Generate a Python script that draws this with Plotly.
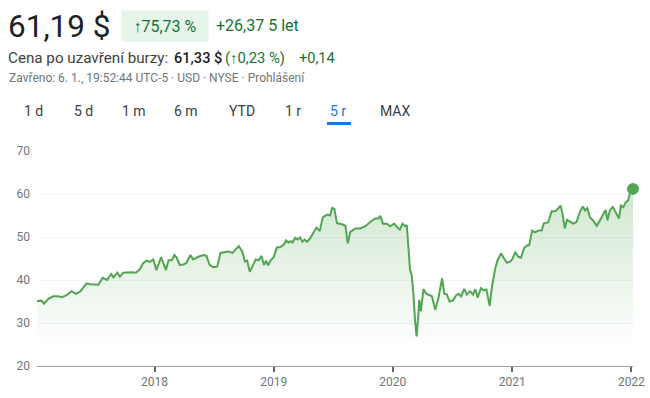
import plotly.graph_objects as go

# ---- data ----
dates = [
    "2017-01-06", "2017-01-20", "2017-01-27", "2017-02-10", "2017-02-25", "2017-03-12", "2017-03-23",
    "2017-04-07", "2017-04-22", "2017-05-05", "2017-05-18", "2017-05-28", "2017-06-07", "2017-06-17",
    "2017-07-03", "2017-07-13", "2017-07-26", "2017-08-09", "2017-08-21", "2017-08-28", "2017-09-09",
    "2017-09-17", "2017-09-27", "2017-10-08", "2017-10-23", "2017-11-05", "2017-11-17", "2017-11-27",
    "2017-12-08", "2017-12-18", "2017-12-28",
    "2018-01-07", "2018-01-21", "2018-02-05", "2018-02-13", "2018-02-23", "2018-03-03", "2018-03-10",
    "2018-03-19", "2018-03-31", "2018-04-09", "2018-04-21", "2018-04-29", "2018-05-06", "2018-05-15",
    "2018-06-01", "2018-06-09", "2018-06-19", "2018-06-30", "2018-07-12", "2018-07-22", "2018-08-06",
    "2018-08-16", "2018-08-28", "2018-09-06", "2018-09-16", "2018-09-27", "2018-10-05", "2018-10-12",
    "2018-10-20", "2018-10-27", "2018-11-07", "2018-11-16", "2018-11-25", "2018-12-02", "2018-12-09",
    "2018-12-15", "2018-12-23",
    "2019-01-01", "2019-01-11", "2019-01-21", "2019-02-02", "2019-02-08", "2019-02-15", "2019-02-23",
    "2019-02-28", "2019-03-08", "2019-03-15", "2019-03-23", "2019-03-30", "2019-04-06", "2019-04-13",
    "2019-04-23", "2019-05-03", "2019-05-12", "2019-05-22", "2019-06-01", "2019-06-14", "2019-06-23",
    "2019-06-29", "2019-07-06", "2019-07-14", "2019-07-22", "2019-08-01", "2019-08-09", "2019-08-16",
    "2019-08-24", "2019-09-08", "2019-09-24", "2019-10-09", "2019-10-24", "2019-11-08", "2019-11-18",
    "2019-11-24", "2019-12-02", "2019-12-14", "2019-12-24",
    "2020-01-05", "2020-01-14", "2020-01-23", "2020-01-31", "2020-02-08", "2020-02-13", "2020-02-18",
    "2020-02-23", "2020-02-28", "2020-03-04", "2020-03-09", "2020-03-14", "2020-03-19", "2020-03-22",
    "2020-03-27", "2020-04-04", "2020-04-12", "2020-04-22", "2020-04-30", "2020-05-10", "2020-05-20",
    "2020-05-31", "2020-06-07", "2020-06-15", "2020-06-23", "2020-07-03", "2020-07-14", "2020-07-21",
    "2020-07-28", "2020-08-07", "2020-08-15", "2020-08-25", "2020-09-03", "2020-09-10", "2020-09-17",
    "2020-09-27", "2020-10-05", "2020-10-14", "2020-10-24", "2020-10-31", "2020-11-10", "2020-11-17",
    "2020-11-28", "2020-12-06", "2020-12-16", "2020-12-28",
    "2021-01-02", "2021-01-10", "2021-01-20", "2021-01-28", "2021-02-06", "2021-02-16", "2021-02-22",
    "2021-03-03", "2021-03-12", "2021-03-22", "2021-04-01", "2021-04-08", "2021-04-21", "2021-05-02",
    "2021-05-12", "2021-05-19", "2021-05-29", "2021-06-04", "2021-06-11", "2021-06-18", "2021-06-27",
    "2021-07-07", "2021-07-17", "2021-07-27", "2021-08-05", "2021-08-12", "2021-08-19", "2021-08-27",
    "2021-09-06", "2021-09-17", "2021-09-27", "2021-10-05", "2021-10-14", "2021-10-20", "2021-10-27",
    "2021-11-05", "2021-11-12", "2021-11-17", "2021-11-24", "2021-11-30", "2021-12-07", "2021-12-15",
    "2021-12-22", "2021-12-30", "2022-01-06",
]
prices = [
    35.1, 35.2, 34.5, 35.6, 36.2, 36.2, 36.0,
    36.5, 37.4, 36.8, 37.3, 38.2, 39.2, 39.0,
    39.0, 38.9, 40.5, 40.0, 41.4, 40.6, 41.7,
    40.8, 41.7, 41.8, 41.8, 41.7, 42.5, 43.9,
    44.5, 44.2, 44.8,
    42.3, 45.3, 42.3, 44.6, 44.6, 45.8, 45.2,
    43.5, 43.6, 44.0, 45.8, 44.8, 45.0, 45.4,
    45.8, 45.6, 43.5, 43.0, 43.1, 46.3, 46.5,
    46.6, 46.3, 47.1, 47.9, 46.6, 44.3, 44.5,
    41.9, 43.0, 44.8, 44.6, 45.6, 43.5, 44.5,
    43.4, 44.6,
    45.3, 47.6, 47.6, 48.3, 49.2, 48.7, 49.0,
    48.7, 49.8, 49.4, 49.9, 48.9, 49.4, 48.9,
    49.7, 51.0, 52.2, 51.4, 54.6, 55.2, 55.0,
    56.8, 56.6, 53.2, 53.1, 52.9, 52.6, 48.5,
    51.2, 52.0, 52.0, 52.5, 53.5, 54.3, 54.3,
    54.9, 53.1, 53.1, 52.5,
    53.1, 52.3, 51.7, 53.1, 52.5, 52.8, 47.7,
    42.3, 41.2, 37.0, 30.8, 26.9, 31.5, 35.4,
    32.7, 37.9, 36.8, 36.5, 36.2, 33.1, 35.8,
    40.4, 36.8, 36.6, 35.0, 35.2, 36.5, 36.8,
    36.2, 37.9, 36.6, 37.4, 36.6, 37.9, 35.9,
    38.1, 37.6, 37.8, 34.0, 38.5, 42.7, 44.6,
    46.2, 45.1, 44.0, 44.4,
    45.0, 46.4, 45.4, 45.2, 47.4, 48.1, 48.1,
    51.5, 51.1, 51.5, 51.5, 53.2, 53.4, 56.0,
    56.0, 56.4, 57.3, 55.5, 52.0, 54.0, 53.5,
    53.1, 53.5, 55.8, 57.1, 56.2, 56.7, 54.6,
    53.8, 52.6, 53.9, 55.0, 56.3, 53.9, 56.2,
    57.0, 56.0, 55.6, 54.3, 57.3, 56.9, 58.1,
    58.5, 61.0, 61.19,
]
y_ticks = [20, 30, 40, 50, 60, 70]
x_ticks = ["2018-01-01", "2019-01-01", "2020-01-01", "2021-01-01", "2022-01-01"]
x_tick_labels = ["2018", "2019", "2020", "2021", "2022"]
range_tabs = ["1 d", "5 d", "1 m", "6 m", "YTD", "1 r", "5 r", "MAX"]
active_tab = "5 r"

LINE = "#52a552"
GREEN_TXT = "#137333"
GRAY = "#70757a"
FONT = "Roboto, Arial, sans-serif"

W, H = 650, 398
ML, MR, MT, MB = 37, 17, 151, 32
PW, PH = W - ML - MR, H - MT - MB


def px(x):
    return (x - ML) / PW


def py(y):
    return (H - MB - y) / PH


fig = go.Figure()
fig.add_trace(go.Scatter(
    x=dates, y=prices, mode="lines",
    line=dict(color=LINE, width=2),
    fill="tozeroy",
    fillgradient=dict(type="vertical", start=24, stop=62,
                      colorscale=[[0, "rgba(82,165,82,0)"], [1, "rgba(82,165,82,0.28)"]]),
    hoverinfo="skip", showlegend=False,
))
fig.add_trace(go.Scatter(
    x=[dates[-1]], y=[prices[-1]], mode="markers",
    marker=dict(color=LINE, size=12), showlegend=False, hoverinfo="skip",
    cliponaxis=False,
))

ann = []
def text(x, y, s, size, color, weight="normal", anchor="left", **kw):
    ann.append(dict(x=px(x), y=py(y), xref="paper", yref="paper", text=s,
                    showarrow=False, xanchor=anchor, yanchor="middle",
                    font=dict(family=FONT, size=size, color=color, weight=weight), **kw))

text(6, 26, "61,19 $", 31.5, "#202124")
text(121, 25.5, "↑75,73 %", 16, GREEN_TXT, anchor="left",
     bgcolor="#e6f4ea", width=86, height=30, borderpad=0, align="center")
text(214, 25.5, "+26,37 5 let", 16, GREEN_TXT)
text(6, 58, "Cena po uzavření burzy:", 15.2, "#3c4043")
text(172, 58, "61,33 $", 14.6, "#202124", weight=500)
text(223, 58, "(↑0,23 %)", 14.8, GREEN_TXT)
text(297, 58, "+0,14", 14.6, GREEN_TXT)
text(7, 78, "Zavřeno: 6. 1., 19:52:44 UTC-5 · USD · NYSE · Prohlášení", 12, GRAY)

tab_centers = [33, 83, 134, 186, 242, 293, 338, 395]
for lab, cx in zip(range_tabs, tab_centers):
    col = "#1a73e8" if lab == active_tab else "#3c4043"
    text(cx, 111, lab, 14, col, anchor="center")

shapes = [dict(type="rect", xref="paper", yref="paper",
               x0=px(327), x1=px(351), y0=py(125), y1=py(122),
               fillcolor="#1a73e8", line=dict(width=0))]

fig.update_layout(
    width=W, height=H, autosize=False,
    margin=dict(l=ML, r=MR, t=MT, b=MB, pad=0, autoexpand=False),
    paper_bgcolor="white", plot_bgcolor="white",
    font=dict(family=FONT, color=GRAY, size=12),
    annotations=ann, shapes=shapes,
    xaxis=dict(
        type="date", range=["2017-01-06", "2022-01-06"],
        tickvals=x_ticks, ticktext=x_tick_labels,
        showgrid=False, zeroline=False, automargin=False,
        showline=True, linecolor="#9aa0a6", linewidth=1,
        ticks="outside", ticklen=5, tickwidth=2, tickcolor="#5f6368",
        tickfont=dict(size=12, color=GRAY, family=FONT),
    ),
    yaxis=dict(
        range=[20, 70], tickvals=y_ticks, automargin=False,
        showgrid=True, gridcolor="#f1f3f4", gridwidth=1,
        zeroline=False, showline=False, ticks="",
        ticklabelstandoff=6,
        tickfont=dict(size=12, color=GRAY, family=FONT),
    ),
)

fig.write_html("out.html", config={"displayModeBar": False},
               post_script="document.body.style.margin='0';document.body.style.padding='0';")
